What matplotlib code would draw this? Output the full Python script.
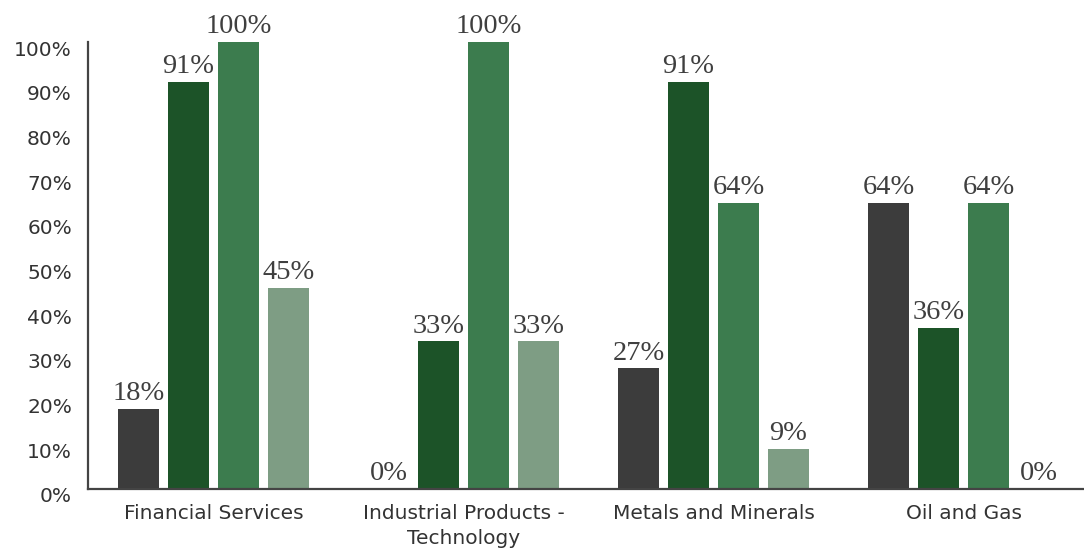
import matplotlib
matplotlib.use("Agg")
import matplotlib.pyplot as plt
import matplotlib.transforms as mtransforms
import numpy as np

categories = ["Financial Services", "Industrial Products -\nTechnology", "Metals and Minerals", "Oil and Gas"]
series_1 = [0.18, 0.00, 0.27, 0.64]
series_2 = [0.91, 0.33, 0.91, 0.36]
series_3 = [1.00, 1.00, 0.64, 0.64]
series_4 = [0.45, 0.33, 0.09, 0.00]
series = [series_1, series_2, series_3, series_4]
colors = ["#3c3c3c", "#1c5328", "#3c7c4e", "#7e9d84"]
yticks = [0, 0.1, 0.2, 0.3, 0.4, 0.5, 0.6, 0.7, 0.8, 0.9, 1.0]
ytick_labels = ["0%", "10%", "20%", "30%", "40%", "50%", "60%", "70%", "80%", "90%", "100%"]

fig = plt.figure(figsize=(10.84, 5.48), dpi=100)
ax = fig.add_axes([88/1084, 1 - 489/548, 1 - 88/1084, (489 - 42)/548])

x = np.arange(len(categories))
width = 0.164
offsets = [-0.3, -0.1, 0.1, 0.3]
for vals, off, c in zip(series, offsets, colors):
    bars = ax.bar(x + off, vals, width=width, color=c, zorder=2)
    for b, v in zip(bars, vals):
        ax.annotate(f"{int(round(v*100))}%", (b.get_x() + b.get_width()/2, v),
                    xytext=(0, 2), textcoords="offset points",
                    ha="center", va="bottom", fontsize=20.5,
                    family="Liberation Serif", color="#3f3f3f", zorder=3,
                    annotation_clip=False)

ax.set_xlim(-0.502, 3.482)
ax.set_ylim(0, 1.0)
ax.set_yticks(yticks)
ax.tick_params(axis="y", labelleft=False, length=0)
# y tick labels drawn slightly below their tick positions, as in the reference
ylab_trans = ax.get_yaxis_transform() + mtransforms.ScaledTranslation(-0.16, -0.08, fig.dpi_scale_trans)
for yv, lab in zip(yticks, ytick_labels):
    ax.text(0, yv, lab, transform=ylab_trans, ha="right", va="center",
            family="DejaVu Sans", fontsize=14.5, color="#333333", clip_on=False)

ax.set_xticks(x)
ax.set_xticklabels(categories, linespacing=1.35)
for lab in ax.get_xticklabels():
    lab.set_family("DejaVu Sans")
    lab.set_fontsize(14.5)
    lab.set_color("#333333")
ax.tick_params(axis="x", length=0, pad=11)
for s in ["top", "right"]:
    ax.spines[s].set_visible(False)
for s in ["left", "bottom"]:
    ax.spines[s].set_color("#444444")
    ax.spines[s].set_linewidth(1.6)

fig.savefig("out.png", dpi=100)
